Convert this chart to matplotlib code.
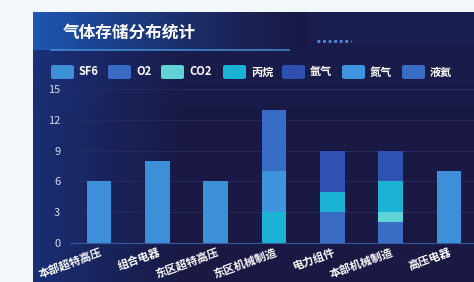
import numpy as np
import matplotlib.pyplot as plt
from matplotlib.patches import FancyBboxPatch

plt.rcParams['font.family'] = ['Noto Sans CJK SC', 'DejaVu Sans']

# data
categories = ['本部超特高压', '组合电器', '东区超特高压', '东区机械制造', '电力组件', '本部机械制造', '高压电器']
series_names = ['SF6', 'O2', 'CO2', '丙烷', '氩气', '氮气', '液氦']
sf6 = [6, 8, 6, 0, 0, 0, 7]
o2 = [0, 0, 0, 0, 3, 2, 0]
co2 = [0, 0, 0, 0, 0, 1, 0]
propane = [0, 0, 0, 3, 2, 3, 0]
argon = [0, 0, 0, 0, 4, 3, 0]
nitrogen = [0, 0, 0, 4, 0, 0, 0]
helium = [0, 0, 0, 6, 0, 0, 0]
series_values = [sf6, o2, co2, propane, argon, nitrogen, helium]
colors = ['#3d8fd8', '#3a6cc4', '#5fd3d8', '#1bb2d4', '#2f52b2', '#3f95dd', '#386dc6']

W, H = 474, 282
fig = plt.figure(figsize=(W / 100, H / 100), dpi=100)
fig.patch.set_facecolor('#f2f7fb')

# dark panel background with a blue glow on the left
bg = fig.add_axes([33 / W, 0, 1 - 33 / W, 1 - 12 / H])
bg.set_axis_off()
yy, xx = np.mgrid[0:1:200j, 0:1:300j]
glow = np.clip(1 - xx * 3.0, 0, 1) * 0.55 + np.clip(yy - 0.6, 0, 1) * 0.3
base = np.array([0.10, 0.10, 0.27])
blue = np.array([0.10, 0.25, 0.60])
img = base + (blue - base) * glow[..., None]
bg.imshow(img, extent=[0, 1, 0, 1], aspect='auto', origin='lower')
# title banner
tb = np.linspace(1, 0, 300)[None, :] ** 1.3
banner = base + (np.array([0.12, 0.34, 0.70]) - base) * tb[..., None] * np.ones((20, 1, 1))
bg.imshow(banner, extent=[0, 0.62, 1 - 38 / 270, 1], aspect='auto', origin='lower')
bg.plot([0.04, 0.58], [1 - 38 / 270, 1 - 38 / 270], color='#4aa0e8', lw=1.2, alpha=0.8)
bg.plot([0.645, 0.72], [1 - 29 / 270, 1 - 29 / 270], color='#4f8fe0', lw=2, ls=(0, (1, 1)))
bg.set_xlim(0, 1)
bg.set_ylim(0, 1)
fig.text(63 / W, 1 - 33 / H, '气体存储分布统计', color='white', fontsize=12,
         fontweight='bold', va='center', ha='left')

# main chart
ax = fig.add_axes([70 / W, (H - 243) / H, (478 - 70) / W, 154 / H])
ax.set_facecolor('none')
x = np.arange(len(categories))
bottom = np.zeros(len(categories))
for name, vals, c in zip(series_names, series_values, colors):
    ax.bar(x, vals, width=0.42, bottom=bottom, color=c, label=name)
    bottom += np.array(vals)

ax.set_xlim(-0.5, len(categories) - 0.5)
ax.set_ylim(0, 15)
ax.set_yticks([0, 3, 6, 9, 12, 15])
ax.set_xticks(x)
ax.set_xticklabels(categories, rotation=20, ha='right', rotation_mode='anchor',
                   color='white', fontsize=8, fontweight='bold')
ax.tick_params(axis='y', colors='#d8dcf0', labelsize=8, length=0, pad=7)
ax.tick_params(axis='x', length=0, pad=2)
ax.yaxis.grid(True, color='#2c2c66', lw=0.6)
ax.set_axisbelow(True)
for s in ['top', 'right', 'left']:
    ax.spines[s].set_visible(False)
ax.spines['bottom'].set_color('#3a5aa0')

# legend, laid out like the original
legend_x = [51, 108, 161, 223, 282, 342, 402]
ly = 72
for px, name, c in zip(legend_x, series_names, colors):
    fig.patches.append(FancyBboxPatch((px / W, 1 - (ly + 7) / H), 23 / W, 14 / H,
                                      boxstyle='round,pad=0,rounding_size=0.006',
                                      transform=fig.transFigure, facecolor=c,
                                      edgecolor='none'))
    fig.text((px + 28) / W, 1 - ly / H, name, color='white', fontsize=8,
             fontweight='bold', va='center', ha='left')

fig.savefig('out.png', dpi=100, facecolor=fig.get_facecolor())
